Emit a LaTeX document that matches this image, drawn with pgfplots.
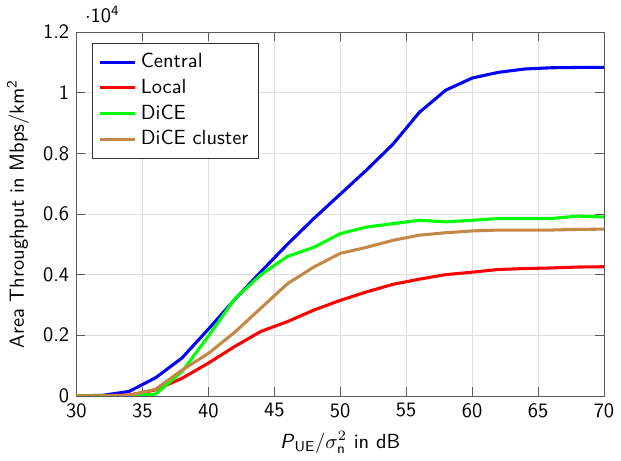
\documentclass[border=0pt]{standalone}
\usepackage{pgfplots}
\pgfplotsset{compat=1.18}
\usepackage{pgfplotstable}
\renewcommand{\familydefault}{\sfdefault}
\definecolor{dicecluster}{RGB}{196,136,70}

% Area throughput (Mbps/km^2) over transmit SNR (dB)
\pgfplotstableread{
snr central local dice cluster
30 0     0    0    0
32 20    5    0    0
34 150   30   0    20
36 600   200  60   220
38 1250  580  800  850
40 2200  1080 1970 1400
42 3180  1630 3200 2100
44 4100  2130 4000 2900
46 5000  2450 4600 3700
48 5850  2830 4900 4250
50 6650  3150 5350 4700
52 7450  3430 5570 4900
54 8300  3680 5680 5130
56 9350  3850 5790 5300
58 10080 4000 5740 5380
60 10480 4080 5790 5440
62 10670 4170 5850 5470
64 10780 4200 5850 5470
66 10820 4220 5850 5470
68 10830 4250 5930 5490
70 10830 4260 5900 5500
}\tput

\begin{document}
\begin{tikzpicture}
\begin{axis}[
  scale only axis,
  width=258pt, height=178pt,
  xmin=30, xmax=70, ymin=0, ymax=12000,
  xtick={30,35,...,70},
  ytick={0,2000,...,12000},
  scaled y ticks=base 10:-4,
  ytick scale label code/.code={$\cdot$10\textsuperscript{4}},
  every y tick scale label/.style={at={(rel axis cs:0,1)}, anchor=south west, xshift=4pt, yshift=1pt, inner xsep=0pt, inner ysep=3pt},
  /pgf/number format/assume math mode=true,
  grid=major,
  major grid style={gray!25},
  axis line style={gray!70!black},
  tick style={gray!70!black},
  xlabel={\textit{P}\textsubscript{UE}/$\sigma_{\mathsf{n}}^2$ in dB},
  ylabel={Area Throughput in Mbps/km\textsuperscript{2}},
  legend pos=north west,
  legend cell align=left,
  legend style={draw=black!80, inner sep=3pt},
  every axis plot/.append style={line width=1.5pt},
]
\addplot[blue] table[x=snr, y=central] {\tput};
\addlegendentry{Central}
\addplot[red] table[x=snr, y=local] {\tput};
\addlegendentry{Local}
\addplot[green] table[x=snr, y=dice] {\tput};
\addlegendentry{DiCE}
\addplot[dicecluster] table[x=snr, y=cluster] {\tput};
\addlegendentry{DiCE cluster}
\end{axis}
\end{tikzpicture}
\end{document}
